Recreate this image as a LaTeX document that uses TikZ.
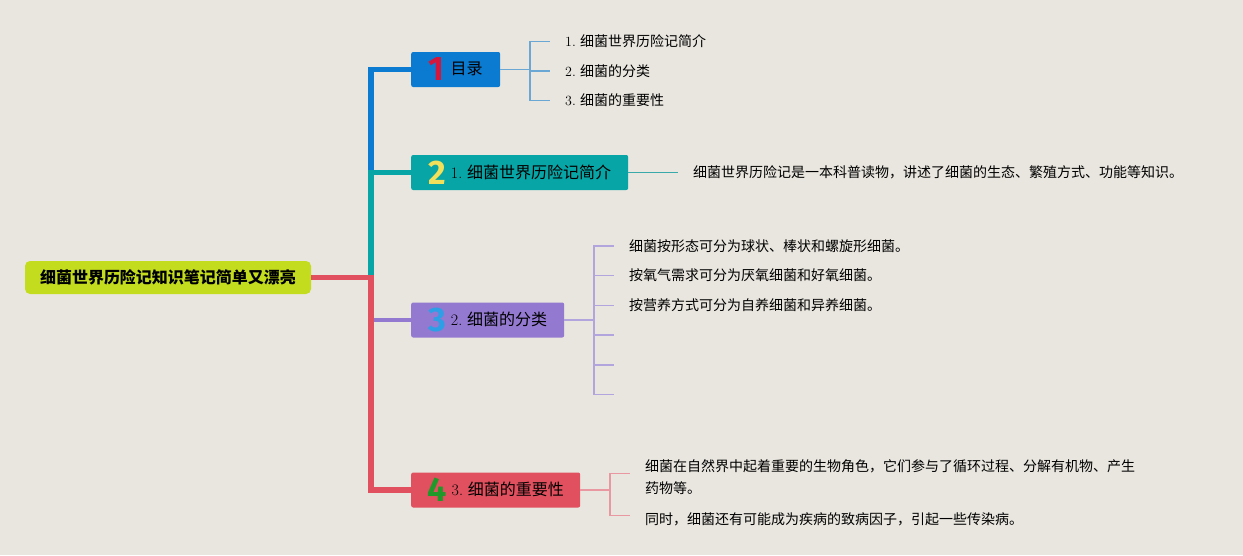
\documentclass[tikz,border=0pt]{standalone}
\usepackage{fontspec}
\newfontfamily\cjk{Noto Sans CJK SC}
\newfontfamily\numfont{Fira Sans}

\definecolor{paper}{HTML}{E9E6DF}
\definecolor{lime}{HTML}{C3DC1E}
\definecolor{topblue}{HTML}{0B7AD1}
\definecolor{topteal}{HTML}{07A5A6}
\definecolor{toppurple}{HTML}{9379D0}
\definecolor{topred}{HTML}{E1505F}
\definecolor{numred}{HTML}{D4163C}
\definecolor{numyellow}{HTML}{F3E05A}
\definecolor{numblue}{HTML}{2C9FE6}
\definecolor{numgreen}{HTML}{1F9A2A}
\definecolor{linkblue}{HTML}{6AA7D5}
\definecolor{linkteal}{HTML}{3AA9A9}
\definecolor{linkpurple}{HTML}{B2A4DD}
\definecolor{linkred}{HTML}{E997A1}

\newcommand{\topicnum}[2]{\raisebox{-6pt}{\fontsize{34}{34}\numfont\bfseries\textcolor{#1}{#2}}}

\tikzset{
  rootbox/.style={fill=lime, rounded corners=5pt, minimum width=286pt, minimum height=33pt,
    inner sep=0pt, font=\cjk\bfseries\fontsize{16}{16}\selectfont},
  topicbox/.style={fill=#1, rounded corners=2pt, anchor=west, minimum height=35pt,
    inner sep=0pt, font=\cjk\fontsize{16}{16}\selectfont},
  leaf/.style={anchor=west, inner sep=0pt, align=left, font=\cjk\fontsize{14}{22}\selectfont},
  trunk/.style={line width=5.3pt, draw=#1},
  twig/.style={line width=1.2pt, draw=#1},
}

\begin{document}
\begin{tikzpicture}[x=1pt,y=-1pt]
    \fill[paper] (0,0) rectangle (1243,555);
    \useasboundingbox (0,0) rectangle (1243,555);

    % root and topics
    \node[rootbox] (root) at (168,277.5) {细菌世界历险记知识笔记简单又漂亮};
    \node[topicbox=topblue, minimum width=89pt] (t1) at (411,69.5) {\topicnum{numred}{1}\hspace{6pt}目录};
    \node[topicbox=topteal, minimum width=217pt] (t2) at (411,172.5) {\topicnum{numyellow}{2}\hspace{5pt}{\rmfamily 1.} 细菌世界历险记简介};
    \node[topicbox=toppurple, minimum width=153pt] (t3) at (411,320) {\topicnum{numblue}{3}\hspace{5pt}{\rmfamily 2.} 细菌的分类};
    \node[topicbox=topred, minimum width=169pt] (t4) at (411,490) {\topicnum{numgreen}{4}\hspace{5pt}{\rmfamily 3.} 细菌的重要性};

    % trunk
    \coordinate (spine) at (371,277.5);
    \draw[trunk=topblue] (t1.west) -- (t1.west -| spine) -- (t2.west -| spine);
    \draw[trunk=topteal] (t2.west) -- (t2.west -| spine) -- (spine);
    \draw[line width=3.3pt, toppurple] (spine |- t3.west) -- (t3.west);
    \draw[trunk=topred] (root.east) -- (spine) -- (t4.west -| spine) -- (t4.west);

    % 1: contents
    \coordinate (k1) at (530,69.5);
    \node[leaf] (a1) at (565,41.5) {{\rmfamily 1.} 细菌世界历险记简介};
    \node[leaf] (a2) at (565,71) {{\rmfamily 2.} 细菌的分类};
    \node[leaf] (a3) at (565,100.5) {{\rmfamily 3.} 细菌的重要性};
    \draw[twig=linkblue] (t1.east) -- (k1);
    \draw[twig=linkblue] ([xshift=-15pt]a1.west) -| (k1 |- a3.west) -- ([xshift=-15pt]a3.west);
    \draw[twig=linkblue] (k1 |- a2.west) -- ([xshift=-15pt]a2.west);

    % 2: intro
    \node[leaf] (b1) at (693,172.5) {细菌世界历险记是一本科普读物，讲述了细菌的生态、繁殖方式、功能等知识。};
    \draw[twig=linkteal] (t2.east) -- ([xshift=-15pt]b1.west);

    % 3: classes
    \coordinate (k3) at (594,320);
    \node[leaf] (c1) at (629,246) {细菌按形态可分为球状、棒状和螺旋形细菌。};
    \node[leaf] (c2) at (629,275.5) {按氧气需求可分为厌氧细菌和好氧细菌。};
    \node[leaf] (c3) at (629,305.5) {按营养方式可分为自养细菌和异养细菌。};
    \coordinate (c4) at (614,335);
    \coordinate (c5) at (614,365);
    \coordinate (c6) at (614,394.5);
    \draw[twig=linkpurple] (t3.east) -- (k3);
    \draw[twig=linkpurple] ([xshift=-15pt]c1.west) -| (k3 |- c6) -- (c6);
    \draw[twig=linkpurple] (k3 |- c2.west) -- ([xshift=-15pt]c2.west);
    \draw[twig=linkpurple] (k3 |- c3.west) -- ([xshift=-15pt]c3.west);
    \draw[twig=linkpurple] (k3 |- c4) -- (c4);
    \draw[twig=linkpurple] (k3 |- c5) -- (c5);

    % 4: importance
    \coordinate (k4) at (610,490);
    \node[leaf] (d1) at (645,477) {细菌在自然界中起着重要的生物角色，它们参与了循环过程、分解有机物、产生\\药物等。};
    \node[leaf] (d2) at (645,519) {同时，细菌还有可能成为疾病的致病因子，引起一些传染病。};
    \coordinate (e1) at ([shift={(-15,-3.5)}]d1.west);
    \coordinate (e2) at ([shift={(-15,-3.5)}]d2.west);
    \draw[twig=linkred] (t4.east) -- (k4);
    \draw[twig=linkred] (e1) -| (k4 |- e2) -- (e2);
\end{tikzpicture}
\end{document}
